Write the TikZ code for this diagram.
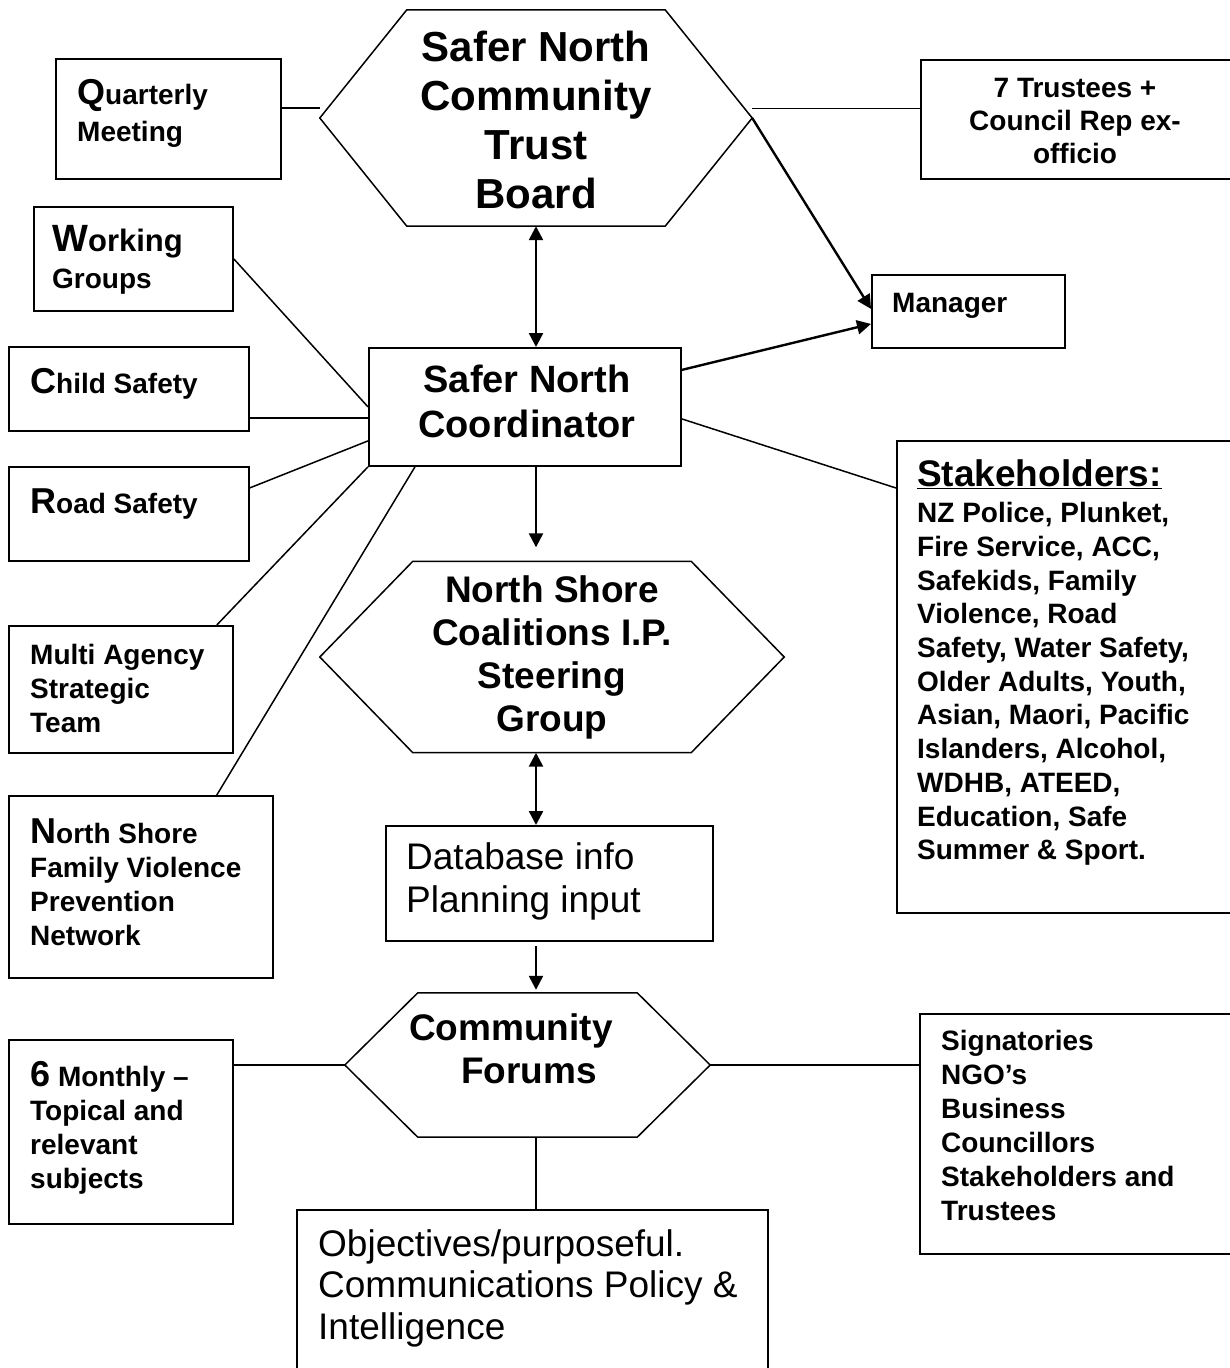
\documentclass[tikz,border=0pt]{standalone}
\usepackage{fontspec}
\setmainfont{Liberation Sans}
\usetikzlibrary{arrows.meta,calc}
\newcommand\bigini[1]{{\fontsize{36}{34}\selectfont #1}}
\begin{document}
\begin{tikzpicture}[x=1pt,y=-1pt,
  frame/.style={draw,line width=1.8pt,anchor=north west,inner sep=0pt},
  hexnode/.style={inner sep=0pt,align=center},
  hexline/.style={line width=1.5pt,line join=miter},
  txt/.style={inner sep=0pt,align=left,anchor=west,font=\fontsize{28}{34}\selectfont\bfseries},
  bigtxt/.style={inner sep=0pt,align=left,anchor=west,font=\fontsize{37}{43}\selectfont},
  conn/.style={line width=1.5pt},
  arr/.style={line width=2.4pt,-{Triangle[length=14pt,width=14pt]}},
  darr/.style={line width=2.4pt,{Triangle[length=14pt,width=14pt]}-{Triangle[length=14pt,width=14pt]}},
]
\useasboundingbox (0,0) rectangle (1230,1368);
\clip (0,0) rectangle (1230,1368);

% ---------- hexagons ----------
\node[hexnode,minimum width=432pt,minimum height=216pt] (board) at (536,118) {};
\draw[hexline] (board.west) -- ([xshift=87pt]board.north west) -- ([xshift=-87pt]board.north east)
  -- (board.east) -- ([xshift=-87pt]board.south east) -- ([xshift=87pt]board.south west) -- cycle;
\node[inner sep=0pt,align=center,font=\fontsize{42}{49}\selectfont\bfseries]
  (boardt) at (536,120) {Safer North\\Community\\Trust\\Board};

\node[hexnode,minimum width=464pt,minimum height=191pt,font=\fontsize{37}{43}\selectfont\bfseries]
  (coal) at (552,657) {North Shore\\Coalitions I.P.\\Steering\\Group};
\draw[hexline] (coal.west) -- ([xshift=93pt]coal.north west) -- ([xshift=-93pt]coal.north east)
  -- (coal.east) -- ([xshift=-93pt]coal.south east) -- ([xshift=93pt]coal.south west) -- cycle;

\node[hexnode,minimum width=365pt,minimum height=144pt] (forums) at (527.5,1065) {};
\draw[hexline] (forums.west) -- ([xshift=73pt]forums.north west) -- ([xshift=-73pt]forums.north east)
  -- (forums.east) -- ([xshift=-73pt]forums.south east) -- ([xshift=73pt]forums.south west) -- cycle;
\node[inner sep=0pt,align=left,anchor=west,font=\fontsize{37}{43}\selectfont\bfseries]
  (forumst) at (409,1049) {Community\\\hspace*{52pt}Forums};

% ---------- boxes ----------
\node[frame,minimum width=225pt,minimum height=120pt] (qm) at (55,58) {};
\node[txt] (qmt) at (77,113) {\bigini{Q}uarterly\\[3pt]Meeting};

\node[frame,minimum width=199pt,minimum height=104pt] (wg) at (33,206) {};
\node[txt] (wgt) at (52,260) {{\fontsize{38}{34}\selectfont W}{\fontsize{31}{34}\selectfont orking}\\[3pt]Groups};

\node[frame,minimum width=240pt,minimum height=84pt] (cs) at (8,346) {};
\node[txt] (cst) at (30,384) {\bigini{C}hild Safety};

\node[frame,minimum width=240pt,minimum height=94pt] (rs) at (8,466) {};
\node[txt] (rst) at (30,504) {\bigini{R}oad Safety};

\node[frame,minimum width=224pt,minimum height=127pt] (ma) at (8,625) {};
\node[txt] (mat) at (30,688) {Multi Agency\\Strategic\\Team};

\node[frame,minimum width=264pt,minimum height=182pt] (nsf) at (8,795) {};
\node[txt] (nsft) at (30,882) {\bigini{N}orth Shore\\Family Violence\\Prevention\\Network};

\node[frame,minimum width=312pt,minimum height=118pt] (coord) at (368,347) {};
\node[inner sep=0pt,align=center,font=\fontsize{38}{45}\selectfont\bfseries] (coordt) at (527,401) {Safer North\\Coordinator};

\node[frame,minimum width=314pt,minimum height=119pt] (tr) at (920,59) {};
\node[inner sep=0pt,align=center,font=\fontsize{28}{33}\selectfont\bfseries] (trt) at (1075,121) {7 Trustees +\\Council Rep ex-\\officio};

\node[frame,minimum width=193pt,minimum height=73pt] (manager) at (871,274) {};
\node[txt] (mgt) at (892,306) {Manager};

\node[frame,minimum width=338pt,minimum height=472pt] (stake) at (896,440) {};
\node[inner sep=0pt,align=left,anchor=north west,font=\fontsize{28}{33.7}\selectfont\bfseries] (stt) at (917,459)
  {{\fontsize{37}{40}\selectfont\underline{Stakeholders:}}\\[3pt]
   NZ Police, Plunket,\\Fire Service, ACC,\\Safekids, Family\\Violence, Road\\Safety, Water Safety,\\Older Adults, Youth,\\Asian, Maori, Pacific\\Islanders, Alcohol,\\WDHB, ATEED,\\Education, Safe\\Summer \& Sport.};

\node[frame,minimum width=327pt,minimum height=115pt] (db) at (385,825) {};
\node[bigtxt] (dbt) at (406,881) {Database info\\Planning input};

\node[frame,minimum width=224pt,minimum height=184pt] (sixm) at (8,1039) {};
\node[txt] (sixmt) at (30,1128) {\bigini{6} Monthly --\\Topical and\\relevant\\subjects};

\node[frame,minimum width=315pt,minimum height=240pt] (sig) at (919,1013) {};
\node[txt] (sigt) at (941,1125) {Signatories\\NGO’s\\Business\\Councillors\\Stakeholders and\\Trustees};

\node[frame,minimum width=471pt,minimum height=200pt] (obj) at (296,1209) {};
\node[inner sep=0pt,align=left,anchor=west,font=\fontsize{37}{41.5}\selectfont] (objt) at (318,1288)
  {Objectives/purposeful.\\Communications Policy \&\\Intelligence};

% ---------- connectors ----------
\draw[conn] ([yshift=11pt]qm.east) -- ([yshift=11pt]qm.east -| board.west);
\draw[conn] ([yshift=11pt]tr.west) -- ([yshift=11pt]tr.west -| board.east);
\draw[darr] (board.south) -- (board.south |- coord.north);
\draw[arr] (board.east) -- ([yshift=2.5pt]manager.west);
\draw[arr] ([yshift=37pt]coord.east) -- ([yshift=-12.5pt]manager.west);
\draw[conn] ([yshift=-12pt]coord.east) -- ([yshift=-48pt]stake.north west);

\draw[conn] (wg.east) -- (coord.west);
\draw[conn] ([yshift=-11pt]coord.west) -- ([yshift=-11pt]coord.west -| cs.east);
\draw[conn] ([yshift=26pt]rs.east) -- ([yshift=-34pt]coord.west);
\draw[conn] ([xshift=-17pt]ma.north east) -- (coord.south west);
\draw[conn] ([xshift=-57pt]nsf.north east) -- ([xshift=47pt]coord.south west);

\draw[arr,shorten >=14pt] (coord.south -| board.south) -- (coal.north -| board.south);
\draw[darr] (coal.south -| board.south) -- (db.north -| board.south);
\draw[arr,shorten <=4pt,shorten >=3pt] (db.south -| board.south) -- (forums.north -| board.south);
\draw[conn] (forums.south -| board.south) -- (obj.north -| board.south);
\draw[conn] (forums.west) -- (forums.west -| sixm.east);
\draw[conn] (forums.east) -- (forums.east -| sig.west);
\end{tikzpicture}
\end{document}
